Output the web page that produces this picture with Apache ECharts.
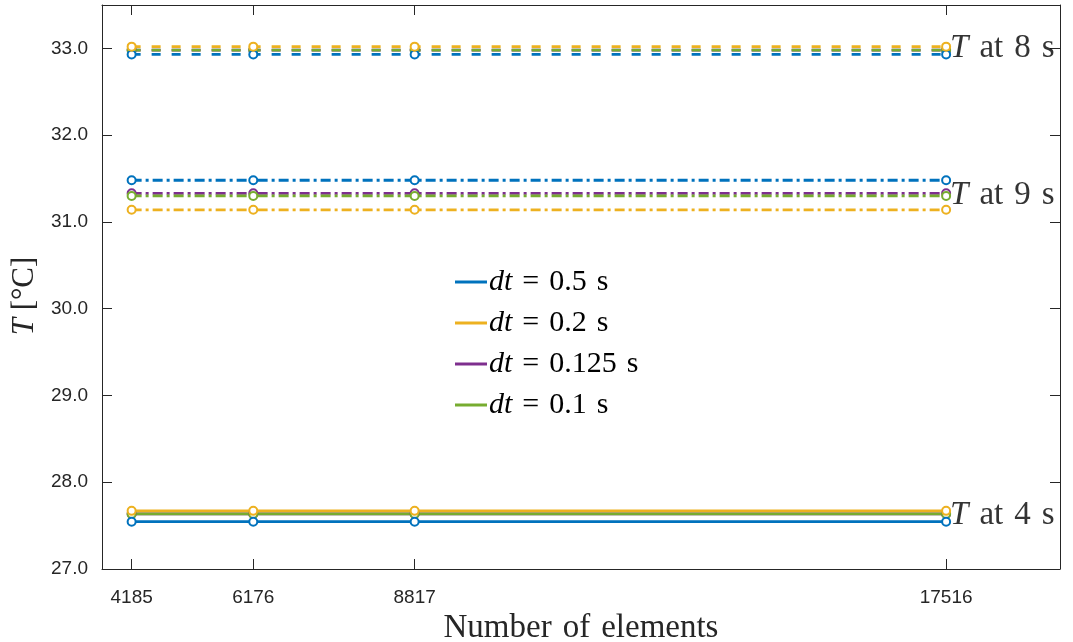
<!DOCTYPE html>
<html>
<head>
<meta charset="utf-8">
<script src="https://cdn.jsdelivr.net/npm/echarts@6/dist/echarts.min.js"></script>
<style>html,body{margin:0;padding:0;background:#fff}#c{width:1073px;height:642px}</style>
</head>
<body>
<div id="c"></div>
<script>
// ---- data ----
const elements = [4185, 6176, 8817, 17516];
const xTicks = [4185, 6176, 8817, 17516];
const yTicks = [27, 28, 29, 30, 31, 32, 33];
const dtLabels = ['0.5', '0.2', '0.125', '0.1'];
const dtColors = ['#0072BD', '#EDB120', '#7E2F8E', '#77AC30'];

// T at 4 s (solid)
const T4_dt05  = [27.545, 27.545, 27.545, 27.545];
const T4_dt02  = [27.67, 27.67, 27.67, 27.67];
const T4_dt0125 = [27.635, 27.635, 27.635, 27.635];
const T4_dt01  = [27.635, 27.635, 27.635, 27.635];
// T at 8 s (dashed)
const T8_dt05  = [32.93, 32.93, 32.93, 32.93];
const T8_dt02  = [33.02, 33.02, 33.02, 33.02];
const T8_dt0125 = [32.98, 32.98, 32.98, 32.98];
const T8_dt01  = [32.98, 32.98, 32.98, 32.98];
// T at 9 s (dash-dot)
const T9_dt05  = [31.48, 31.48, 31.48, 31.48];
const T9_dt02  = [31.14, 31.14, 31.14, 31.14];
const T9_dt0125 = [31.33, 31.33, 31.33, 31.33];
const T9_dt01  = [31.30, 31.30, 31.30, 31.30];

// annotation labels
const annotTimes = ['8', '9', '4'];
const annotY = [33.0, 31.31, 27.62];
const annotX = 17516;

// ---- build ----
const T4 = [T4_dt05, T4_dt02, T4_dt0125, T4_dt01];
const T8 = [T8_dt05, T8_dt02, T8_dt0125, T8_dt01];
const T9 = [T9_dt05, T9_dt02, T9_dt0125, T9_dt01];
const serif = 'Liberation Serif';
const sans = 'Liberation Sans';
const SP = '\u2004';
const dashStyle = [9, 11];
const dashDot = [10, 4, 3, 4];
const nameOf = i => 'dt = ' + dtLabels[i] + ' s';

function mk(i, vals, type) {
  return {
    type: 'line',
    name: nameOf(i),
    data: elements.map((x, k) => [x, vals[k]]),
    symbol: 'emptyCircle',
    symbolSize: 8,
    showAllSymbol: true,
    color: dtColors[i],
    itemStyle: { color: dtColors[i], borderWidth: 2 },
    lineStyle: { color: dtColors[i], width: 2.8, type: type, cap: 'butt' },
    emphasis: { disabled: true },
    animation: false
  };
}
const drawOrder = [2, 3, 0, 1];
const series = [];
drawOrder.forEach(i => {
  series.push(mk(i, T4[i], 'solid'));
  series.push(mk(i, T8[i], dashStyle));
  series.push(mk(i, T9[i], dashDot));
});
series.push({
  type: 'scatter',
  name: 'annot',
  symbolSize: 0,
  silent: true,
  animation: false,
  data: annotY.map((y, k) => ({ value: [annotX, y], t: annotTimes[k] })),
  label: {
    show: true,
    position: 'right',
    distance: 4,
    formatter: p => '{i|T}' + SP + 'at' + SP + p.data.t + SP + 's',
    fontFamily: serif,
    fontSize: 33,
    color: '#000',
    rich: { i: { fontFamily: serif, fontStyle: 'italic', fontSize: 33, color: '#000' } }
  }
});

const axisColor = '#262626';
const option = {
  backgroundColor: '#fff',
  animation: false,
  grid: { left: 102, right: 13, top: 5, bottom: 73, outerBoundsMode: 'none', containLabel: false },
  legend: {
    data: [0, 1, 2, 3].map(nameOf),
    orient: 'vertical',
    left: 450,
    top: 262,
    icon: 'rect',
    itemWidth: 32,
    itemHeight: 3,
    itemGap: 11,
    selectedMode: false,
    formatter: n => '{i|dt}' + SP + '=' + SP + n.slice(5, -2) + SP + 's',
    textStyle: {
      fontFamily: serif, fontSize: 30, color: '#000', padding: [0, 0, 0, -3],
      rich: { i: { fontFamily: serif, fontStyle: 'italic', fontSize: 30, color: '#000' } }
    }
  },
  xAxis: [{
    type: 'value',
    min: 3700,
    max: 19380,
    position: 'bottom',
    name: 'Number' + SP + 'of' + SP + 'elements',
    nameLocation: 'middle',
    nameGap: 35,
    nameTextStyle: { fontFamily: serif, fontSize: 33, color: axisColor },
    axisLine: { show: true, onZero: false, lineStyle: { color: axisColor, width: 1 } },
    axisTick: { show: true, inside: true, length: 10, customValues: xTicks, lineStyle: { color: axisColor } },
    axisLabel: { customValues: xTicks, formatter: v => String(v), fontFamily: sans, fontSize: 19, color: axisColor, margin: 19 },
    splitLine: { show: false }
  }, {
    type: 'value',
    min: 3700,
    max: 19380,
    position: 'top',
    axisLine: { show: true, onZero: false, lineStyle: { color: axisColor, width: 1 } },
    axisTick: { show: true, inside: true, length: 10, customValues: xTicks, lineStyle: { color: axisColor } },
    axisLabel: { show: false },
    splitLine: { show: false }
  }],
  yAxis: [{
    type: 'value',
    min: 27,
    max: 33.5,
    position: 'left',
    name: '{i|T} [°C]',
    nameLocation: 'middle',
    nameGap: 60,
    nameTextStyle: {
      fontFamily: serif, fontSize: 31, color: axisColor, padding: [0, 18, 0, 0],
      rich: { i: { fontFamily: serif, fontStyle: 'italic', fontSize: 31, color: axisColor } }
    },
    axisLine: { show: true, onZero: false, lineStyle: { color: axisColor, width: 1 } },
    axisTick: { show: true, inside: true, length: 10, customValues: yTicks, lineStyle: { color: axisColor } },
    axisLabel: { customValues: yTicks, formatter: v => v.toFixed(1), fontFamily: sans, fontSize: 19, color: axisColor, margin: 14 },
    splitLine: { show: false }
  }, {
    type: 'value',
    min: 27,
    max: 33.5,
    position: 'right',
    axisLine: { show: true, onZero: false, lineStyle: { color: axisColor, width: 1 } },
    axisTick: { show: true, inside: true, length: 10, customValues: yTicks, lineStyle: { color: axisColor } },
    axisLabel: { show: false },
    splitLine: { show: false }
  }],
  series: series
};
const chart = echarts.init(document.getElementById('c'), null, { renderer: 'canvas' });
chart.setOption(option);
</script>
</body>
</html>
